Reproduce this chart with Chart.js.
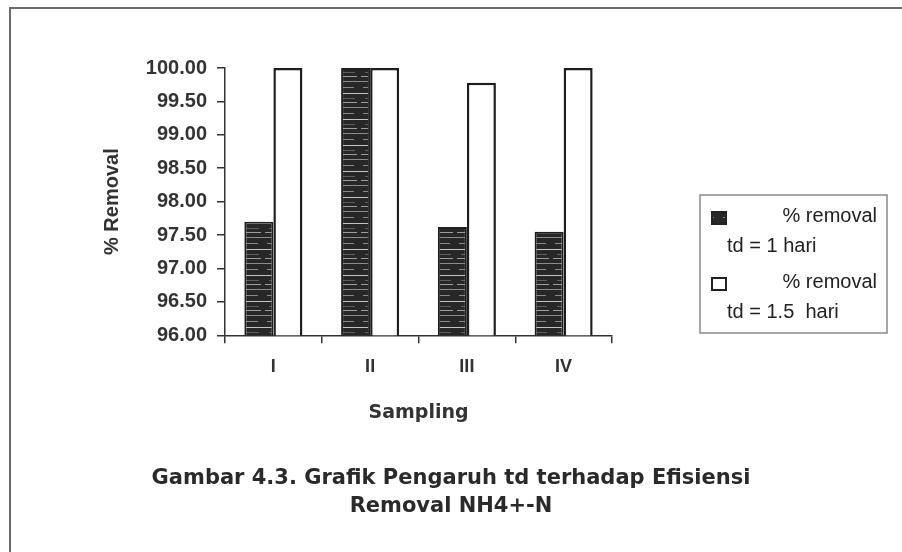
<!DOCTYPE html>
<html lang="id">
<head>
<meta charset="UTF-8" />
<title>Grafik Pengaruh td terhadap Efisiensi Removal NH4+-N</title>
<script src="https://cdn.jsdelivr.net/npm/chart.js@4.4.1/dist/chart.umd.min.js"></script>
<style>
  html, body { margin: 0; padding: 0; background: #fff; }
  #wrap { position: relative; width: 902px; height: 552px; }
</style>
</head>
<body>
<div id="wrap"><canvas id="removalChart" width="902" height="552"></canvas></div>
<script>
// sampling points and % removal for both detention times
const samplings = ["I", "II", "III", "IV"];
const removalTd1 = [97.70, 100.00, 97.62, 97.55];
const removalTd15 = [100.00, 100.00, 99.78, 100.00];
const seriesLabels = [["% removal", "td = 1 hari"], ["% removal", "td = 1.5  hari"]];
const yTicks = [96, 96.5, 97, 97.5, 98, 98.5, 99, 99.5, 100];
const titleLines = ["Gambar 4.3. Grafik Pengaruh td terhadap Efisiensi", "Removal NH4+-N"];

const FONT = "'Liberation Sans', Arial, sans-serif";
const WIDE = "'DejaVu Sans', Verdana, sans-serif";

// dark striped fill like the old printer shading
function stripedFill() {
  const c = document.createElement("canvas");
  c.width = 24; c.height = 26;
  const g = c.getContext("2d");
  g.fillStyle = "#272727";
  g.fillRect(0, 0, 24, 26);
  g.fillStyle = "#8a8a8a";
  g.fillRect(0, 3, 24, 1);
  g.fillRect(3, 9, 15, 1);
  g.fillStyle = "#c4c4c4";
  g.fillRect(0, 15, 24, 1);
  g.fillStyle = "#5e5e5e";
  g.fillRect(5, 20, 14, 1);
  g.fillStyle = "#9c9c9c";
  g.fillRect(1, 24, 20, 1);
  return g.createPattern(c, "repeat");
}
const darkFill = stripedFill();

// page frame + custom two-line legend box
const decorations = {
  id: "decorations",
  beforeDraw(chart) {
    const ctx = chart.ctx;
    ctx.save();
    ctx.strokeStyle = "#6a6a6a";
    ctx.lineWidth = 2;
    ctx.beginPath();
    ctx.moveTo(10, 552);
    ctx.lineTo(10, 8);
    ctx.lineTo(902, 8);
    ctx.stroke();
    ctx.restore();
  },
  afterDraw(chart) {
    const ctx = chart.ctx;
    const x0 = 700, y0 = 195, w = 187, h = 138;
    ctx.save();
    ctx.strokeStyle = "#8a8a8a";
    ctx.lineWidth = 1.5;
    ctx.strokeRect(x0, y0, w, h);
    ctx.font = "20px " + FONT;
    ctx.textBaseline = "middle";
    chart.data.datasets.forEach((ds, i) => {
      const top = y0 + 17 + i * 66;
      ctx.fillStyle = ds.backgroundColor;
      ctx.fillRect(x0 + 12, top, 14, 12);
      ctx.strokeStyle = "#222";
      ctx.lineWidth = 2;
      ctx.strokeRect(x0 + 12, top, 14, 12);
      ctx.fillStyle = "#222";
      ctx.textAlign = "right";
      ctx.fillText(ds.label[0], x0 + w - 10, top + 4);
      ctx.textAlign = "left";
      ctx.fillText(ds.label[1], x0 + 27, top + 34);
    });
    ctx.restore();
  }
};

new Chart(document.getElementById("removalChart"), {
  type: "bar",
  data: {
    labels: samplings,
    datasets: [
      {
        label: seriesLabels[0],
        data: removalTd1,
        backgroundColor: darkFill,
        borderColor: "#1e1e1e",
        borderWidth: 2,
        categoryPercentage: 0.6,
        barPercentage: 1.0
      },
      {
        label: seriesLabels[1],
        data: removalTd15,
        backgroundColor: "#ffffff",
        borderColor: "#1e1e1e",
        borderWidth: 2.5,
        categoryPercentage: 0.6,
        barPercentage: 1.0
      }
    ]
  },
  options: {
    responsive: false,
    animation: false,
    layout: { padding: { top: 68, left: 0, right: 0, bottom: 0 } },
    plugins: {
      legend: { display: false },
      tooltip: { enabled: false },
      title: {
        display: true,
        position: "bottom",
        text: titleLines,
        color: "#2a2a2a",
        font: { family: WIDE, size: 21, weight: "bold", lineHeight: 1.35 },
        padding: { top: 29, bottom: 31 }
      }
    },
    scales: {
      x: {
        grid: { display: true, drawOnChartArea: false, offset: true, color: "#333", tickLength: 8, lineWidth: 1.5 },
        border: { display: true, color: "#333", width: 1.5 },
        ticks: { color: "#333", padding: 13, font: { family: FONT, size: 18, weight: "bold" } },
        title: {
          display: true,
          text: "Sampling",
          color: "#333",
          font: { family: WIDE, size: 19, weight: "bold" },
          padding: { top: 0, bottom: 11 }
        },
        afterFit(s) { s.height = 100; }
      },
      y: {
        min: 96,
        max: 100,
        afterBuildTicks(s) { s.ticks = yTicks.map(v => ({ value: v })); },
        grid: { display: true, drawOnChartArea: false, color: "#333", tickLength: 8, lineWidth: 1.5 },
        border: { display: true, color: "#333", width: 1.5 },
        ticks: {
          color: "#333",
          padding: 10,
          font: { family: FONT, size: 20, weight: "bold" },
          callback: v => Number(v).toFixed(2)
        },
        title: {
          display: true,
          text: "% Removal",
          color: "#333",
          font: { family: FONT, size: 20, weight: "bold" },
          padding: { top: 100, bottom: 0 }
        },
        afterFit(s) { s.width = 225; }
      },
      pad: {
        type: "linear",
        position: "right",
        display: true,
        grid: { display: false },
        border: { display: false },
        ticks: { display: false },
        afterFit(s) { s.width = 290; }
      }
    }
  },
  plugins: [decorations]
});
</script>
</body>
</html>
